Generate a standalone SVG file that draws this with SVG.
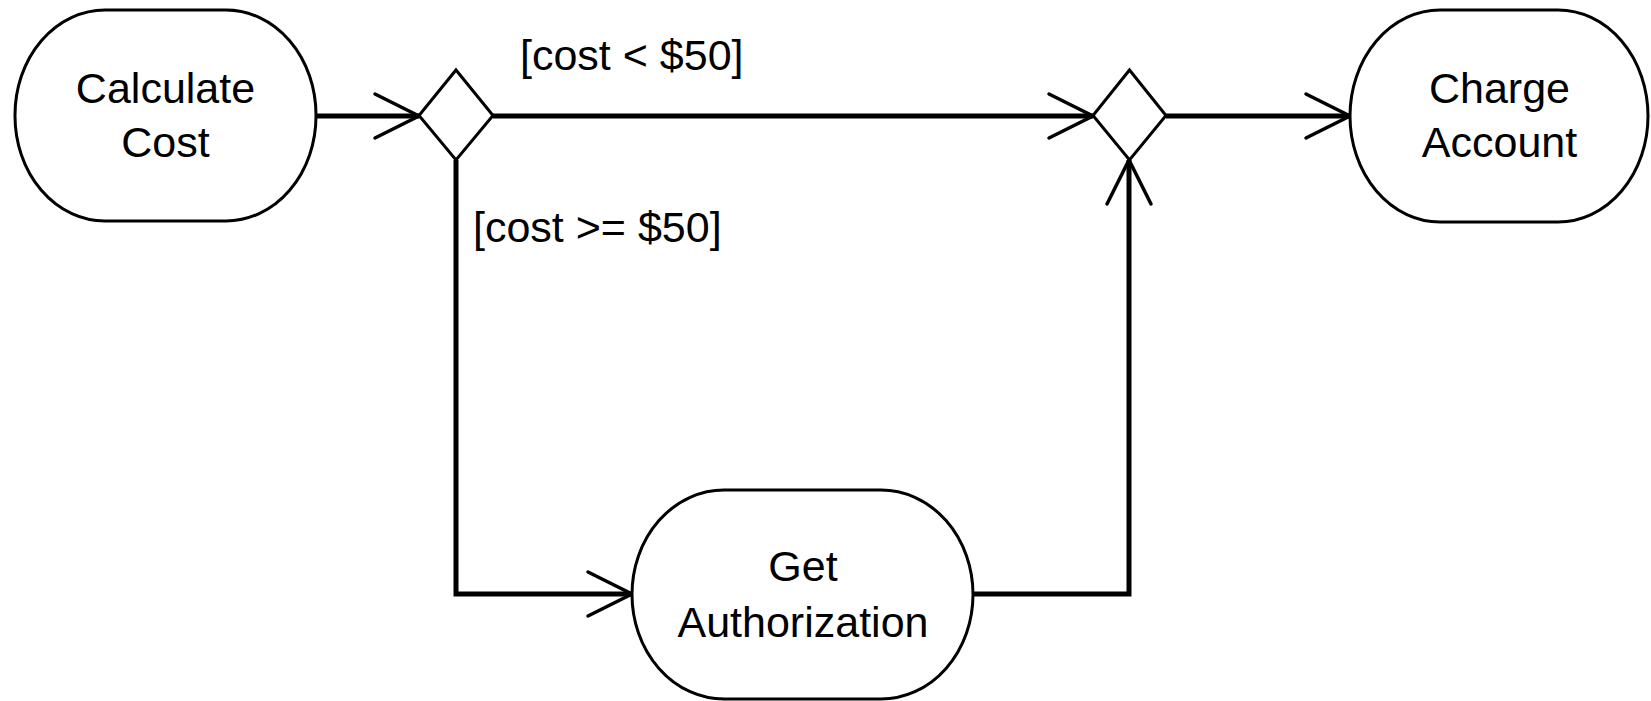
<svg xmlns="http://www.w3.org/2000/svg" width="1651" height="701" viewBox="0 0 1651 701">
<style>
.node{fill:#fff;stroke:#000;stroke-width:3}
.dec{fill:#fff;stroke:#000;stroke-width:3;stroke-linejoin:miter}
.lbl{font-family:"Liberation Sans",Arial,sans-serif;font-size:43px;fill:#000}
.c{text-anchor:middle}
.edge{fill:none;stroke:#000;stroke-width:5;stroke-linejoin:miter}
</style>
<defs>
<marker id="arr" markerUnits="userSpaceOnUse" viewBox="0 0 60 60" markerWidth="60" markerHeight="60" refX="50" refY="30" orient="auto" overflow="visible">
<path d="M6,8 L50,30 L6,52" fill="none" stroke="#000" stroke-width="3.5" stroke-linecap="round"/>
</marker>
</defs>
<rect width="1651" height="701" fill="#fff"/>
<g id="connectors">
<path class="edge" d="M316,116 L419,116" marker-end="url(#arr)"/>
<path class="edge" d="M493,116 L1093,116" marker-end="url(#arr)"/>
<path class="edge" d="M1166,116 L1350,116" marker-end="url(#arr)"/>
<path class="edge" d="M456,160 L456,594 L632,594" marker-end="url(#arr)"/>
<path class="edge" d="M973,594 L1129,594 L1129,160" marker-end="url(#arr)"/>
<text class="lbl" x="520" y="70">[cost &lt; $50]</text>
<text class="lbl" x="473" y="242">[cost &gt;= $50]</text>
</g>
<g id="calculate-cost">
<rect class="node" x="15" y="10" width="301" height="211" rx="90" ry="105"/>
<text class="lbl c" x="165.5" y="103">Calculate</text>
<text class="lbl c" x="165.5" y="157">Cost</text>
</g>
<g id="decision">
<polygon class="dec" points="456,70 493,115.5 456,160 419,115.5"/>
</g>
<g id="merge">
<polygon class="dec" points="1129.5,70 1166,115.5 1129.5,160 1093,115.5"/>
</g>
<g id="charge-account">
<rect class="node" x="1350" y="10" width="298" height="212" rx="90" ry="106"/>
<text class="lbl c" x="1499.5" y="103">Charge</text>
<text class="lbl c" x="1499.5" y="157">Account</text>
</g>
<g id="get-authorization">
<rect class="node" x="632" y="490" width="341" height="209" rx="92" ry="104.5"/>
<text class="lbl c" x="803" y="581">Get</text>
<text class="lbl c" x="803" y="637">Authorization</text>
</g>
</svg>
